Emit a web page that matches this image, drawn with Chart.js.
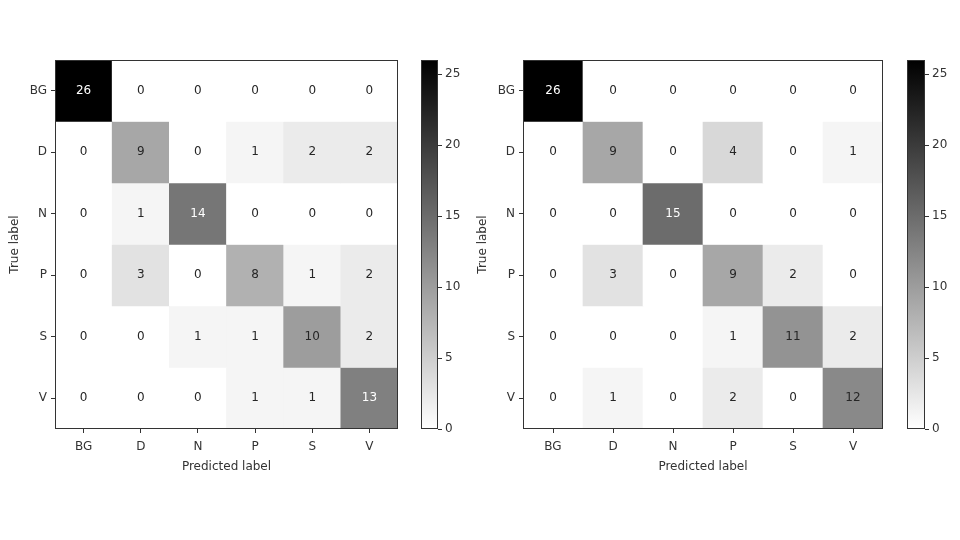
<!DOCTYPE html>
<html>
<head>
<meta charset="utf-8">
<script src="https://cdn.jsdelivr.net/npm/chart.js@4.4.1/dist/chart.umd.min.js"></script>
<style>
body{margin:0;background:#fff;width:960px;height:540px;position:relative;overflow:hidden}
canvas{position:absolute;top:0}
</style>
</head>
<body>
<canvas id="cmLeft" style="left:0" width="410" height="540"></canvas>
<canvas id="cbLeft" style="left:421px" width="45" height="540"></canvas>
<canvas id="cmRight" style="left:468px" width="427" height="540"></canvas>
<canvas id="cbRight" style="left:907px" width="45" height="540"></canvas>
<script>
// class labels and the two confusion matrices (rows = true, cols = predicted)
const labels = ['BG','D','N','P','S','V']
const leftMatrix = [
  [26,0,0,0,0,0],
  [0,9,0,1,2,2],
  [0,1,14,0,0,0],
  [0,3,0,8,1,2],
  [0,0,1,1,10,2],
  [0,0,0,1,1,13]
]
const rightMatrix = [
  [26,0,0,0,0,0],
  [0,9,0,4,0,1],
  [0,0,15,0,0,0],
  [0,3,0,9,2,0],
  [0,0,0,1,11,2],
  [0,1,0,2,0,12]
]
const colorbarTicks = [0,5,10,15,20,25]
const vmin = 0, vmax = 26

Chart.defaults.font.family = '"DejaVu Sans", sans-serif'
Chart.defaults.font.size = 12
Chart.defaults.color = '#333'
Chart.defaults.animation = false

function grey(v){
  let t = (v - vmin) / (vmax - vmin)
  let c = Math.round(255 * (1 - t))
  return 'rgb(' + c + ',' + c + ',' + c + ')'
}

/* frame round the plot area, like matplotlib spines */
const framePlugin = {
  id:'frame',
  afterDraw(chart){
    const a = chart.chartArea, ctx = chart.ctx
    ctx.save()
    ctx.strokeStyle = '#333'
    ctx.lineWidth = 1
    ctx.strokeRect(Math.round(a.left)+0.5, Math.round(a.top)+0.5, Math.round(a.right-a.left)-1, Math.round(a.bottom-a.top)-1)
    ctx.restore()
  }
}

/* counts written in each cell */
const cellText = {
  id:'cellText',
  afterDatasetsDraw(chart){
    const ctx = chart.ctx
    const m = chart.options.plugins.cellText.matrix
    let flat = m.flat()
    let thresh = (Math.max(...flat) + Math.min(...flat)) / 2
    ctx.save()
    ctx.font = '12px "DejaVu Sans"'
    ctx.textAlign = 'center'
    ctx.textBaseline = 'middle'
    chart.data.datasets.forEach((ds, r) => {
      chart.getDatasetMeta(r).data.forEach((el, c) => {
        let v = m[r][c]
        ctx.fillStyle = v >= thresh ? '#fff' : '#262626'
        ctx.fillText(String(v), el.x, (el.y + el.base) / 2)
      })
    })
    ctx.restore()
  }
}

function makeMatrix(id, matrix){
  const datasets = matrix.map((row, r) => ({
    data: row.map(() => [r, r + 1]),
    backgroundColor: row.map(v => grey(v)),
    borderWidth: 0,
    barPercentage: 1,
    categoryPercentage: 1,
    grouped: false
  }))
  new Chart(document.getElementById(id), {
    type:'bar',
    data:{ labels: labels, datasets: datasets },
    options:{
      responsive:false,
      layout:{ padding:{ top:60, right:12, bottom:61, left:6 } },
      plugins:{ legend:{display:false}, tooltip:{enabled:false}, cellText:{ matrix: matrix } },
      scales:{
        x:{
          type:'category',
          grid:{ offset:false, drawOnChartArea:false, tickLength:4, color:'#333' },
          border:{ display:false },
          ticks:{ padding:7, color:'#333', maxRotation:0 },
          title:{ display:true, text:'Predicted label', color:'#333', font:{size:12}, padding:{top:2, bottom:5} },
          afterFit(s){ s.height = 50 }
        },
        y:{
          type:'linear', min:0, max:6, reverse:true,
          afterBuildTicks(s){ s.ticks = labels.map((l, i) => ({ value: i + 0.5 })) },
          ticks:{ callback:(v, i) => labels[i], padding:4, color:'#333' },
          grid:{ drawOnChartArea:false, tickLength:4, color:'#333' },
          border:{ display:false },
          title:{ display:true, text:'True label', color:'#333', font:{size:12}, padding:{top:2, bottom:2} },
          afterFit(s){ s.width = 49 }
        }
      }
    },
    plugins:[cellText, framePlugin]
  })
}

function makeColorbar(id, axisWidth){
  new Chart(document.getElementById(id), {
    type:'bar',
    data:{
      labels:['cb'],
      datasets:[{
        data:[[vmin, vmax]],
        backgroundColor(ctx){
          const a = ctx.chart.chartArea
          if(!a) return '#888'
          const g = ctx.chart.ctx.createLinearGradient(0, a.bottom, 0, a.top)
          g.addColorStop(0, grey(vmin))
          g.addColorStop(1, grey(vmax))
          return g
        },
        borderWidth:0,
        barPercentage:1,
        categoryPercentage:1
      }]
    },
    options:{
      responsive:false,
      layout:{ padding:{ top:60, right:0, bottom:111, left:0 } },
      plugins:{ legend:{display:false}, tooltip:{enabled:false} },
      scales:{
        x:{ display:false },
        y:{
          type:'linear', position:'right', min:vmin, max:vmax,
          afterBuildTicks(s){ s.ticks = colorbarTicks.map(v => ({ value: v })) },
          ticks:{ padding:3, color:'#333', font:{size:12} },
          grid:{ drawOnChartArea:false, tickLength:4, color:'#333' },
          border:{ display:false },
          afterFit(s){ s.width = axisWidth }
        }
      }
    },
    plugins:[framePlugin]
  })
}

makeMatrix('cmLeft', leftMatrix)
makeColorbar('cbLeft', 28)
makeMatrix('cmRight', rightMatrix)
makeColorbar('cbRight', 27)
</script>
</body>
</html>
